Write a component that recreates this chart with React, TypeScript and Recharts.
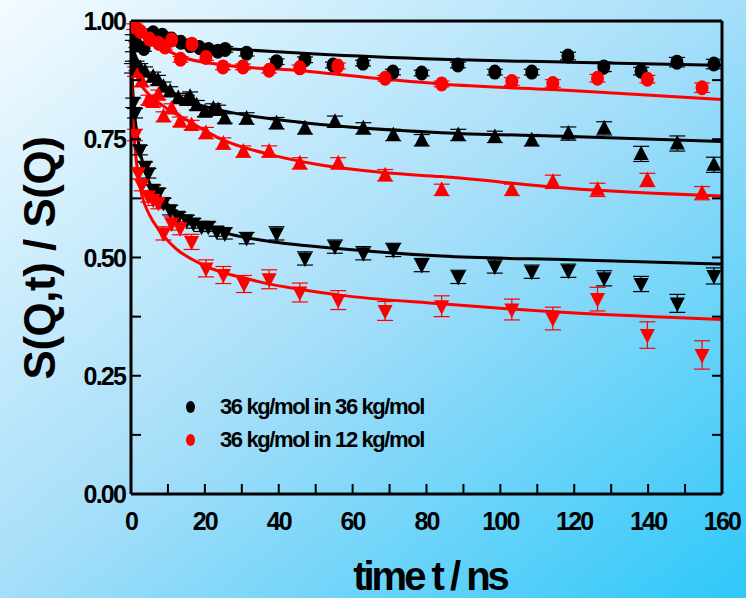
import React from "react";
import {
  ComposedChart,
  Scatter,
  Line,
  XAxis,
  YAxis,
  ErrorBar,
} from "recharts";

// [t (ns), S(Q,t)/S(Q), error]
const blackCircles = [
  [0.5, 0.965, 0.006], [1.5, 0.95, 0.006], [3.5, 0.942, 0.006], [6, 0.975, 0.006],
  [8.5, 0.97, 0.006], [11, 0.962, 0.006], [13.5, 0.955, 0.006], [16, 0.948, 0.006],
  [18.5, 0.944, 0.006], [21, 0.94, 0.006], [23.5, 0.936, 0.006], [25.5, 0.94, 0.006],
  [31.3, 0.932, 0.006], [39.4, 0.914, 0.006], [47.1, 0.918, 0.006], [54.7, 0.907, 0.006],
  [62.8, 0.911, 0.006], [70.9, 0.892, 0.006], [78.7, 0.89, 0.006], [88.5, 0.907, 0.006],
  [98.5, 0.892, 0.006], [108.5, 0.892, 0.006], [118.3, 0.926, 0.008], [128, 0.903, 0.01],
  [138.1, 0.894, 0.008], [147.8, 0.913, 0.01], [157.8, 0.909, 0.01],
];
const redCircles = [
  [0.9, 0.988, 0.006], [2.5, 0.978, 0.006], [5, 0.962, 0.006], [7.5, 0.953, 0.006],
  [9.2, 0.945, 0.006], [11, 0.96, 0.006], [13.4, 0.919, 0.006], [16.5, 0.951, 0.006],
  [20.3, 0.923, 0.006], [24.9, 0.903, 0.006], [30.3, 0.903, 0.006], [37.4, 0.896, 0.006],
  [45.7, 0.901, 0.006], [56, 0.905, 0.006], [68.8, 0.879, 0.006], [84.1, 0.867, 0.006],
  [103.1, 0.872, 0.008], [114.2, 0.868, 0.008], [126.3, 0.879, 0.008], [139.8, 0.877, 0.008],
  [154.6, 0.859, 0.01],
];
const blackUp = [
  [0.5, 0.925, 0.01], [1.5, 0.905, 0.01], [2.5, 0.9, 0.01], [3.8, 0.893, 0.01],
  [6, 0.882, 0.01], [7.3, 0.875, 0.01], [8.8, 0.861, 0.01], [10.6, 0.851, 0.01],
  [12.8, 0.837, 0.01], [15.1, 0.833, 0.01], [16, 0.84, 0.01], [17.8, 0.822, 0.01],
  [20, 0.808, 0.01], [22.3, 0.815, 0.01], [23.6, 0.812, 0.01], [25.4, 0.794, 0.01],
  [31.3, 0.794, 0.012], [39.4, 0.784, 0.012], [47.1, 0.773, 0.012], [55.2, 0.787, 0.012],
  [62.9, 0.773, 0.012], [71, 0.759, 0.012], [78.7, 0.748, 0.012], [88.6, 0.759, 0.012],
  [98.5, 0.755, 0.012], [108.5, 0.748, 0.012], [118.4, 0.762, 0.014], [128.1, 0.773, 0.014],
  [138.1, 0.719, 0.016], [147.9, 0.741, 0.016], [157.8, 0.696, 0.016],
];
const redUp = [
  [1.1, 0.893, 0.01], [2.9, 0.872, 0.01], [4.7, 0.833, 0.01], [6, 0.829, 0.01],
  [7.4, 0.844, 0.01], [8.8, 0.798, 0.01], [11, 0.815, 0.01], [13.3, 0.787, 0.01],
  [16.4, 0.78, 0.01], [20.3, 0.763, 0.012], [25, 0.741, 0.012], [30.4, 0.724, 0.012],
  [37.4, 0.724, 0.012], [45.7, 0.699, 0.012], [56.1, 0.699, 0.012], [68.8, 0.674, 0.012],
  [84.1, 0.643, 0.012], [103.1, 0.643, 0.012], [114.2, 0.66, 0.014], [126.3, 0.643, 0.014],
  [139.8, 0.664, 0.014], [154.6, 0.636, 0.014],
];
const blackDown = [
  [0.3, 0.9, 0.01], [0.6, 0.827, 0.01], [1.1, 0.805, 0.01], [2.4, 0.727, 0.01],
  [3.8, 0.692, 0.01], [4.7, 0.678, 0.01], [6, 0.643, 0.01], [7.4, 0.636, 0.01],
  [8.8, 0.615, 0.01], [10.6, 0.6, 0.01], [12.8, 0.586, 0.01], [15.1, 0.579, 0.01],
  [16.9, 0.572, 0.01], [19.1, 0.565, 0.01], [20.9, 0.565, 0.01], [23.2, 0.555, 0.01],
  [25.4, 0.551, 0.012], [31.3, 0.541, 0.012], [39.4, 0.551, 0.014], [47.1, 0.498, 0.014],
  [55.2, 0.523, 0.014], [62.9, 0.509, 0.014], [71, 0.516, 0.014], [78.7, 0.484, 0.014],
  [88.6, 0.459, 0.014], [98.5, 0.481, 0.014], [108.5, 0.47, 0.014], [118.4, 0.472, 0.014],
  [128.1, 0.456, 0.016], [138.1, 0.444, 0.016], [147.9, 0.403, 0.019], [157.8, 0.461, 0.017],
];
const redDown = [
  [1.1, 0.759, 0.012], [2, 0.678, 0.012], [2.9, 0.653, 0.012], [4.7, 0.629, 0.012],
  [6, 0.622, 0.012], [7.4, 0.615, 0.012], [8.8, 0.551, 0.014], [11, 0.572, 0.014],
  [13.3, 0.562, 0.014], [16.4, 0.533, 0.016], [20.3, 0.477, 0.018], [25, 0.463, 0.018],
  [30.6, 0.444, 0.018], [37.4, 0.454, 0.02], [45.7, 0.426, 0.02], [56.1, 0.41, 0.02],
  [68.8, 0.387, 0.02], [84.1, 0.397, 0.022], [103.1, 0.39, 0.022], [114.2, 0.371, 0.024],
  [126.3, 0.412, 0.025], [139.8, 0.336, 0.028], [154.6, 0.294, 0.03],
];

// fitted curves
const blackCircleFit = [
  [0, 0.995], [1, 0.98], [3, 0.968], [6, 0.958], [10, 0.952], [20, 0.944],
  [31, 0.939], [50, 0.93], [84, 0.919], [119, 0.913], [160, 0.906],
];
const redCircleFit = [
  [0, 1.0], [1, 0.985], [3, 0.968], [6, 0.952], [10, 0.937], [13, 0.926],
  [25, 0.907], [46, 0.895], [69, 0.877], [84, 0.867], [119, 0.853], [160, 0.834],
];
const blackUpFit = [
  [0, 0.97], [1, 0.93], [3, 0.895], [6, 0.875], [10, 0.855], [15, 0.833],
  [25, 0.81], [31, 0.801], [48, 0.784], [84, 0.764], [119, 0.756], [160, 0.745],
];
const redUpFit = [
  [0, 0.94], [1, 0.9], [2, 0.875], [4, 0.852], [9, 0.819], [15, 0.791], [25, 0.748],
  [38, 0.717], [51, 0.696], [69, 0.679], [84, 0.671], [119, 0.646], [160, 0.63],
];
const blackDownFit = [
  [0, 0.95], [0.5, 0.85], [1, 0.8], [1.5, 0.77], [2.7, 0.715], [5, 0.658],
  [7.7, 0.629], [12, 0.6], [18.5, 0.573], [25, 0.553], [35, 0.537], [56, 0.519],
  [84, 0.503], [119, 0.495], [160, 0.486],
];
const redDownFit = [
  [0, 0.9], [0.5, 0.8], [1, 0.74], [2, 0.67], [3, 0.63], [5, 0.59], [7.7, 0.557],
  [12, 0.52], [19.6, 0.484], [33, 0.452], [56, 0.421], [84, 0.402], [119, 0.383],
  [160, 0.369],
];

const xTicks = [0, 10, 20, 30, 40, 50, 60, 70, 80, 90, 100, 110, 120, 130, 140, 150, 160];
const yTicks = [0, 0.125, 0.25, 0.375, 0.5, 0.625, 0.75, 0.875, 1];
const legendItems = [
  { label: "36 kg/mol in 36 kg/mol", color: "#000000" },
  { label: "36 kg/mol in 12 kg/mol", color: "#ff0000" },
];

const FONT = "'Liberation Sans', Arial, sans-serif";

const toPts = (arr: number[][]) => arr.map(([t, v, e]) => ({ t, v, e }));
const toLine = (arr: number[][]) => arr.map(([t, v]) => ({ t, v }));

const circleShape = (color: string) => (p: any) => (
  <ellipse cx={p.cx} cy={p.cy} rx={6.5} ry={7.5} fill={color} />
);
const upShape = (color: string) => (p: any) => (
  <polygon
    points={`${p.cx},${p.cy - 8.5} ${p.cx - 7.5},${p.cy + 6} ${p.cx + 7.5},${p.cy + 6}`}
    fill={color}
  />
);
const downShape = (color: string) => (p: any) => (
  <polygon
    points={`${p.cx},${p.cy + 8.5} ${p.cx - 7.5},${p.cy - 6} ${p.cx + 7.5},${p.cy - 6}`}
    fill={color}
  />
);

const BottomTick = ({ x, y, payload }: any) => (
  <g>
    <line x1={x} y1={y} x2={x} y2={y - 10} stroke="#000" strokeWidth={2} />
    {payload.value % 20 === 0 && (
      <text
        x={x}
        y={y + 36}
        textAnchor="middle"
        fontFamily={FONT}
        fontWeight="bold"
        fontSize={25}
        letterSpacing={-1.8}
        fill="#000"
      >
        {payload.value}
      </text>
    )}
  </g>
);
const TopTick = ({ x, y }: any) => (
  <line x1={x} y1={y} x2={x} y2={y + 10} stroke="#000" strokeWidth={2} />
);
const LeftTick = ({ x, y, payload }: any) => {
  const v = payload.value;
  const major = Math.abs((v * 4) % 1) < 1e-6;
  return (
    <g>
      <line x1={x} y1={y} x2={x + 10} y2={y} stroke="#000" strokeWidth={2} />
      {major && (
        <text
          x={x - 6}
          y={y + 9}
          textAnchor="end"
          fontFamily={FONT}
          fontWeight="bold"
          fontSize={25}
          letterSpacing={-1.8}
          fill="#000"
        >
          {v.toFixed(2)}
        </text>
      )}
    </g>
  );
};
const RightTick = ({ x, y }: any) => (
  <line x1={x} y1={y} x2={x - 10} y2={y} stroke="#000" strokeWidth={2} />
);

const series = [
  { data: blackCircles, shape: circleShape("#000"), color: "#000" },
  { data: redCircles, shape: circleShape("#ff0000"), color: "#ff0000" },
  { data: blackUp, shape: upShape("#000"), color: "#000" },
  { data: redUp, shape: upShape("#ff0000"), color: "#ff0000" },
  { data: blackDown, shape: downShape("#000"), color: "#000" },
  { data: redDown, shape: downShape("#ff0000"), color: "#ff0000" },
];
const fits = [
  { data: blackCircleFit, color: "#000" },
  { data: redCircleFit, color: "#ff0000" },
  { data: blackUpFit, color: "#000" },
  { data: redUpFit, color: "#ff0000" },
  { data: blackDownFit, color: "#000" },
  { data: redDownFit, color: "#ff0000" },
];

export default function App() {
  return (
    <div
      style={{
        position: "absolute",
        left: 0,
        top: 0,
        width: 746,
        height: 598,
        background: "linear-gradient(to bottom right, #f4fbff 0%, #a4def9 50%, #2ec8f9 100%)",
        fontFamily: FONT,
        overflow: "hidden",
      }}
    >
      <ComposedChart
        width={746}
        height={598}
        margin={{ top: 20, right: 23, bottom: 0, left: 0 }}
      >
        <XAxis
          xAxisId="b"
          dataKey="t"
          type="number"
          domain={[0, 160]}
          ticks={xTicks}
          interval={0}
          height={104}
          tickSize={0}
          tickMargin={0}
          tickLine={false}
          tick={<BottomTick />}
          axisLine={{ stroke: "#000", strokeWidth: 3 }}
          allowDataOverflow
        />
        <XAxis
          xAxisId="top"
          orientation="top"
          type="number"
          domain={[0, 160]}
          ticks={xTicks}
          interval={0}
          height={1}
          tickSize={0}
          tickMargin={0}
          tickLine={false}
          tick={<TopTick />}
          axisLine={{ stroke: "#000", strokeWidth: 3 }}
          allowDataOverflow
        />
        <YAxis
          yAxisId="l"
          dataKey="v"
          type="number"
          domain={[0, 1]}
          ticks={yTicks}
          interval={0}
          width={131}
          tickSize={0}
          tickMargin={0}
          tickLine={false}
          tick={<LeftTick />}
          axisLine={{ stroke: "#000", strokeWidth: 3 }}
          allowDataOverflow
        />
        <YAxis
          yAxisId="r"
          orientation="right"
          type="number"
          domain={[0, 1]}
          ticks={yTicks}
          interval={0}
          width={1}
          tickSize={0}
          tickMargin={0}
          tickLine={false}
          tick={<RightTick />}
          axisLine={{ stroke: "#000", strokeWidth: 3 }}
          allowDataOverflow
        />
        {fits.map((f, i) => (
          <Line
            key={`fit${i}`}
            xAxisId="b"
            yAxisId="l"
            data={toLine(f.data)}
            dataKey="v"
            type="monotone"
            stroke={f.color}
            strokeWidth={3}
            dot={false}
            activeDot={false}
            isAnimationActive={false}
          />
        ))}
        {series.map((s, i) => (
          <Scatter
            key={`s${i}`}
            xAxisId="b"
            yAxisId="l"
            data={toPts(s.data)}
            dataKey="v"
            shape={s.shape}
            isAnimationActive={false}
          >
            <ErrorBar
              dataKey="e"
              direction="y"
              width={8}
              stroke={s.color}
              strokeWidth={1.2}
              isAnimationActive={false}
            />
          </Scatter>
        ))}
      </ComposedChart>

      {legendItems.map((item, i) => (
        <div
          key={item.label}
          style={{
            position: "absolute",
            left: 186,
            top: 393 + i * 33,
            display: "flex",
            alignItems: "center",
            height: 28,
          }}
        >
          <span
            style={{
              display: "inline-block",
              width: 9,
              height: 12,
              borderRadius: "50%",
              background: item.color,
              marginRight: 25,
            }}
          />
          <span
            style={{
              fontWeight: "bold",
              fontSize: 22,
              letterSpacing: -1.4,
              color: "#000",
              whiteSpace: "nowrap",
            }}
          >
            {item.label}
          </span>
        </div>
      ))}

      <div
        style={{
          position: "absolute",
          left: 40,
          top: 258,
          transform: "translate(-50%, -50%) rotate(-90deg)",
          fontWeight: "bold",
          fontSize: 44,
          letterSpacing: -0.5,
          whiteSpace: "nowrap",
          color: "#000",
        }}
      >
        S(Q,t) / S(Q)
      </div>
      <div
        style={{
          position: "absolute",
          left: 430,
          top: 576,
          transform: "translate(-50%, -50%)",
          fontWeight: "bold",
          fontSize: 40,
          letterSpacing: -3,
          whiteSpace: "nowrap",
          color: "#000",
        }}
      >
        time t / ns
      </div>
    </div>
  );
}
